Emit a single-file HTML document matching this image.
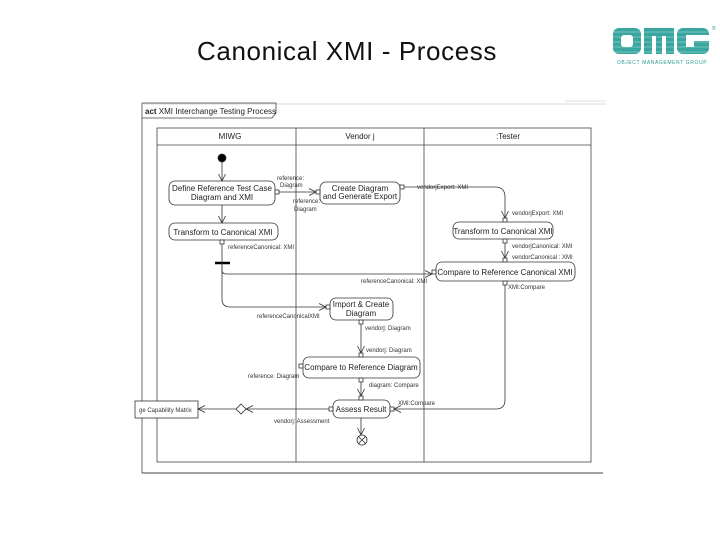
<!DOCTYPE html>
<html><head><meta charset="utf-8"><style>
html,body{margin:0;padding:0;background:#fff;width:720px;height:540px;overflow:hidden}
svg{display:block}
</style></head><body>
<svg width="720" height="540" xmlns="http://www.w3.org/2000/svg" font-family="Liberation Sans, sans-serif">
<defs>
<marker id="a" markerWidth="8" markerHeight="8" refX="7" refY="4" orient="auto" markerUnits="userSpaceOnUse">
<path d="M0,0.5 L7,4 L0,7.5" fill="none" stroke="#333" stroke-width="0.8"/></marker>
</defs>
<text x="347" y="60" font-size="26" letter-spacing="0.6" text-anchor="middle" fill="#111">Canonical XMI - Process</text>
<!-- OMG logo -->
<g fill="#3aa6a0">
<rect x="613" y="28" width="28" height="26" rx="6"/>
<rect x="644" y="28" width="30" height="26"/>
<rect x="677" y="28" width="32" height="26" rx="6"/>
</g>
<g fill="#fff">
<rect x="621" y="35" width="12" height="12" rx="3"/>
<rect x="652" y="36" width="4" height="18"/><rect x="662" y="36" width="4" height="18"/>
<rect x="686" y="35" width="23" height="6"/><rect x="686" y="41" width="8" height="6"/>
</g>
<g stroke="#fff" stroke-width="0.6" opacity="0.6"><line x1="610" y1="32" x2="712" y2="32"/><line x1="610" y1="37" x2="712" y2="37"/><line x1="610" y1="42" x2="712" y2="42"/><line x1="610" y1="47" x2="712" y2="47"/><line x1="610" y1="52" x2="712" y2="52"/></g>
<text x="662" y="64" font-size="5" text-anchor="middle" fill="#2a9a94" letter-spacing="0.6">OBJECT MANAGEMENT GROUP</text>
<text x="712" y="30" font-size="5" fill="#2a9a94">®</text>
<!-- frame -->
<g stroke="#444" fill="none" stroke-width="0.8">
<line x1="142" y1="103" x2="142" y2="473"/>
<line x1="142" y1="473" x2="603" y2="473" stroke-width="1"/>
<line x1="142" y1="104" x2="606" y2="104" stroke="#ccc"/>
<path d="M142,103 H276 V113 L272,118 H142"/>
<rect x="157" y="128" width="434" height="334"/>
<line x1="157" y1="145" x2="591" y2="145"/>
<line x1="296" y1="128" x2="296" y2="462"/>
<line x1="424" y1="128" x2="424" y2="462"/>
</g>
<line x1="565" y1="101" x2="606" y2="101" stroke="#ddd"/>
<g font-size="8" fill="#222">
<text x="145" y="114"><tspan font-weight="bold">act</tspan> XMI Interchange Testing Process</text>
<text x="230" y="139" text-anchor="middle">MIWG</text>
<text x="360" y="139" text-anchor="middle">Vendor j</text>
<text x="508" y="139" text-anchor="middle">:Tester</text>
</g>
<!-- nodes -->
<g stroke="#333" fill="#fff" stroke-width="0.8">
<circle cx="222" cy="158" r="4" fill="#000"/>
<rect x="169" y="181" width="106" height="24" rx="6"/>
<rect x="320" y="182" width="80" height="22" rx="6"/>
<rect x="169" y="223" width="109" height="17" rx="6"/>
<rect x="453" y="222" width="100" height="17" rx="6"/>
<rect x="436" y="262" width="139" height="19" rx="6"/>
<rect x="330" y="298" width="63" height="22" rx="6"/>
<rect x="303" y="357" width="117" height="21" rx="6"/>
<rect x="333" y="400" width="57" height="18" rx="6"/>
<rect x="135" y="401" width="63" height="17" fill="#fff"/>
<path d="M241,404 L246,409 L241,414 L236,409Z"/>
<circle cx="362" cy="440" r="5"/>
<path d="M358.5,436.5 L365.5,443.5 M365.5,436.5 L358.5,443.5" fill="none"/>
<!-- pins -->
<rect x="275" y="190" width="4" height="4"/>
<rect x="316" y="190" width="4" height="4"/>
<rect x="400" y="185" width="4" height="4"/>
<rect x="220" y="240" width="4" height="4"/>
<rect x="503" y="218" width="4" height="4"/>
<rect x="503" y="239" width="4" height="4"/>
<rect x="503" y="258" width="4" height="4"/>
<rect x="432" y="270" width="4" height="4"/>
<rect x="503" y="281" width="4" height="4"/>
<rect x="326" y="305" width="4" height="4"/>
<rect x="359" y="320" width="4" height="4"/>
<rect x="359" y="353" width="4" height="4"/>
<rect x="299" y="364" width="4" height="4"/>
<rect x="359" y="378" width="4" height="4"/>
<rect x="359" y="396" width="4" height="4"/>
<rect x="329" y="407" width="4" height="4"/>
<rect x="390" y="407" width="4" height="4"/>
</g>
<line x1="215" y1="263" x2="230" y2="263" stroke="#000" stroke-width="2.5"/>
<!-- edges -->
<g stroke="#333" fill="none" stroke-width="0.8">
<line x1="222" y1="162" x2="222" y2="181" marker-end="url(#a)"/>
<line x1="222" y1="205" x2="222" y2="223" marker-end="url(#a)"/>
<line x1="279" y1="192" x2="316" y2="192" marker-end="url(#a)"/>
<path d="M404,187 H495 Q505,187 505,197 V218" marker-end="url(#a)"/>
<line x1="505" y1="243" x2="505" y2="258" marker-end="url(#a)"/>
<line x1="222" y1="244" x2="222" y2="263"/>
<path d="M222,263 V270 Q222,274 226,274 H432" marker-end="url(#a)"/>
<path d="M222,263 V299 Q222,307 230,307 H326" marker-end="url(#a)"/>
<line x1="361" y1="324" x2="361" y2="353" marker-end="url(#a)"/>
<line x1="361" y1="382" x2="361" y2="396" marker-end="url(#a)"/>
<path d="M505,285 V400 Q505,409 496,409 H394" marker-end="url(#a)"/>
<line x1="329" y1="409" x2="246" y2="409" marker-end="url(#a)"/>
<line x1="236" y1="409" x2="198" y2="409" marker-end="url(#a)"/>
<line x1="361" y1="418" x2="361" y2="435" marker-end="url(#a)"/>
</g>
<!-- text -->
<g font-size="8" fill="#222" text-anchor="middle">
<text x="222" y="191">Define Reference Test Case</text>
<text x="222" y="200">Diagram and XMI</text>
<text x="360" y="191">Create Diagram</text>
<text x="360" y="199">and Generate Export</text>
<text x="223" y="235">Transform to Canonical XMI</text>
<text x="503" y="234">Transform to Canonical XMI</text>
<text x="505" y="275">Compare to Reference Canonical XMI</text>
<text x="361" y="307">Import &amp; Create</text>
<text x="361" y="316">Diagram</text>
<text x="361" y="370">Compare to Reference Diagram</text>
<text x="361" y="412">Assess Result</text>
</g>
<g font-size="6" fill="#333">
<text x="277" y="180">reference:</text>
<text x="280" y="187">Diagram</text>
<text x="293" y="203">reference:</text>
<text x="294" y="211">Diagram</text>
<text x="417" y="189">vendorjExport: XMI</text>
<text x="512" y="215">vendorjExport: XMI</text>
<text x="512" y="248">vendorjCanonical: XMI</text>
<text x="512" y="259">vendorCanonical : XMI</text>
<text x="508" y="289">XMI:Compare</text>
<text x="228" y="249">referenceCanonical: XMI</text>
<text x="361" y="283">referenceCanonical: XMI</text>
<text x="257" y="318">referenceCanonicalXMI</text>
<text x="365" y="330">vendorj: Diagram</text>
<text x="366" y="352">vendorj: Diagram</text>
<text x="248" y="378">reference: Diagram</text>
<text x="369" y="387">diagram: Compare</text>
<text x="398" y="405">XMI:Compare</text>
<text x="274" y="423">vendorj: Assessment</text>
<text x="139" y="412">ge Capability Matrix</text>
</g>
</svg>
</body></html>
